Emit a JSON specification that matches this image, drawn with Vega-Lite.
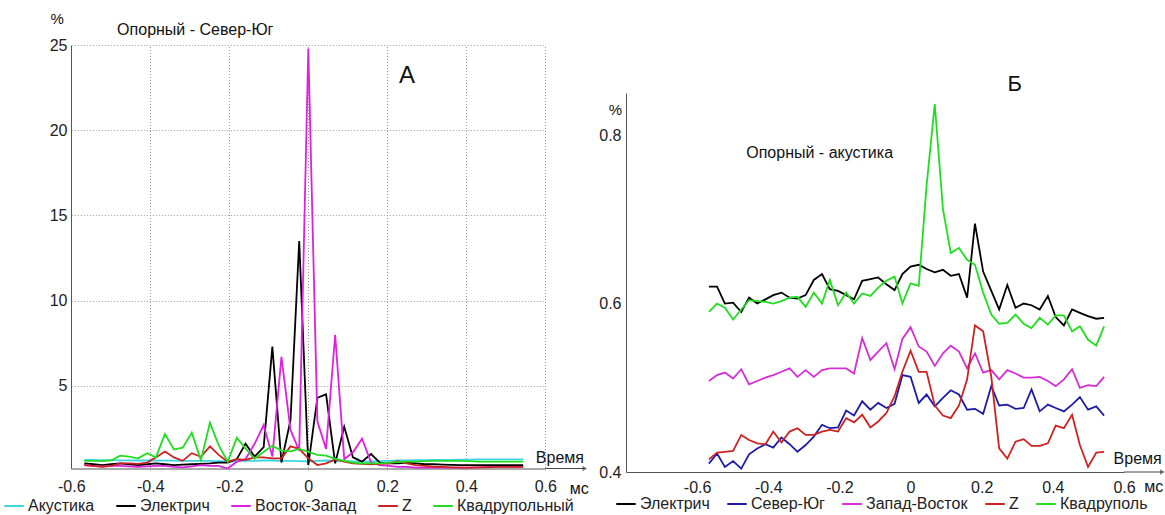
{
"$schema":"https://vega.github.io/schema/vega-lite/v6.json",
"width":1165,"height":515,"autosize":{"type":"none"},"padding":0,"background":"white",
"config":{"view":{"stroke":null},"font":"Liberation Sans","text":{"font":"Liberation Sans","color":"#111"},
"axis":{"grid":true,"gridDash":[1,2],"gridColor":"#9a9a9a","gridWidth":1,"ticks":false,"domainColor":"#555","labelFont":"Liberation Sans","labelFontSize":16,"labelColor":"#222","labelFlush":false,"labelOverlap":false,"title":null},
"legend":{"labelFont":"Liberation Sans"}},
"datasets":{
"A":[
{"s":"Акустика","t":-0.567,"v":0.65},{"s":"Акустика","t":-0.544,"v":0.65},{"s":"Акустика","t":-0.522,"v":0.64},{"s":"Акустика","t":-0.499,"v":0.64},{"s":"Акустика","t":-0.476,"v":0.63},{"s":"Акустика","t":-0.454,"v":0.63},{"s":"Акустика","t":-0.431,"v":0.62},{"s":"Акустика","t":-0.408,"v":0.62},{"s":"Акустика","t":-0.386,"v":0.62},{"s":"Акустика","t":-0.363,"v":0.61},
{"s":"Акустика","t":-0.34,"v":0.61},{"s":"Акустика","t":-0.318,"v":0.6},{"s":"Акустика","t":-0.295,"v":0.6},{"s":"Акустика","t":-0.272,"v":0.6},{"s":"Акустика","t":-0.249,"v":0.6},{"s":"Акустика","t":-0.227,"v":0.58},{"s":"Акустика","t":-0.204,"v":0.56},{"s":"Акустика","t":-0.181,"v":0.57},{"s":"Акустика","t":-0.159,"v":0.6},{"s":"Акустика","t":-0.136,"v":0.6},
{"s":"Акустика","t":-0.113,"v":0.62},{"s":"Акустика","t":-0.091,"v":0.62},{"s":"Акустика","t":-0.068,"v":0.6},{"s":"Акустика","t":-0.045,"v":0.6},{"s":"Акустика","t":-0.023,"v":0.58},{"s":"Акустика","t":0,"v":0.56},{"s":"Акустика","t":0.023,"v":0.6},{"s":"Акустика","t":0.045,"v":0.62},{"s":"Акустика","t":0.068,"v":0.6},{"s":"Акустика","t":0.091,"v":0.58},
{"s":"Акустика","t":0.113,"v":0.56},{"s":"Акустика","t":0.136,"v":0.55},{"s":"Акустика","t":0.159,"v":0.56},{"s":"Акустика","t":0.181,"v":0.58},{"s":"Акустика","t":0.204,"v":0.6},{"s":"Акустика","t":0.227,"v":0.62},{"s":"Акустика","t":0.249,"v":0.63},{"s":"Акустика","t":0.272,"v":0.64},{"s":"Акустика","t":0.295,"v":0.64},{"s":"Акустика","t":0.318,"v":0.65},
{"s":"Акустика","t":0.34,"v":0.66},{"s":"Акустика","t":0.363,"v":0.66},{"s":"Акустика","t":0.386,"v":0.67},{"s":"Акустика","t":0.408,"v":0.67},{"s":"Акустика","t":0.431,"v":0.68},{"s":"Акустика","t":0.454,"v":0.68},{"s":"Акустика","t":0.476,"v":0.68},{"s":"Акустика","t":0.499,"v":0.68},{"s":"Акустика","t":0.522,"v":0.68},{"s":"Акустика","t":0.544,"v":0.68},
{"s":"Электрич","t":-0.567,"v":0.45},{"s":"Электрич","t":-0.544,"v":0.4},{"s":"Электрич","t":-0.522,"v":0.35},{"s":"Электрич","t":-0.499,"v":0.4},{"s":"Электрич","t":-0.476,"v":0.45},{"s":"Электрич","t":-0.454,"v":0.4},{"s":"Электрич","t":-0.431,"v":0.35},{"s":"Электрич","t":-0.408,"v":0.4},{"s":"Электрич","t":-0.386,"v":0.45},{"s":"Электрич","t":-0.363,"v":0.4},
{"s":"Электрич","t":-0.34,"v":0.35},{"s":"Электрич","t":-0.318,"v":0.38},{"s":"Электрич","t":-0.295,"v":0.4},{"s":"Электрич","t":-0.272,"v":0.42},{"s":"Электрич","t":-0.249,"v":0.45},{"s":"Электрич","t":-0.227,"v":0.5},{"s":"Электрич","t":-0.204,"v":0.5},{"s":"Электрич","t":-0.181,"v":0.7},{"s":"Электрич","t":-0.159,"v":1.6},{"s":"Электрич","t":-0.136,"v":0.85},
{"s":"Электрич","t":-0.113,"v":1.4},{"s":"Электрич","t":-0.091,"v":7.3},{"s":"Электрич","t":-0.068,"v":0.5},{"s":"Электрич","t":-0.045,"v":3.0},{"s":"Электрич","t":-0.023,"v":13.5},{"s":"Электрич","t":0,"v":0.35},{"s":"Электрич","t":0.023,"v":4.3},{"s":"Электрич","t":0.045,"v":4.5},{"s":"Электрич","t":0.068,"v":0.45},{"s":"Электрич","t":0.091,"v":2.6},
{"s":"Электрич","t":0.113,"v":0.8},{"s":"Электрич","t":0.136,"v":0.55},{"s":"Электрич","t":0.159,"v":1.0},{"s":"Электрич","t":0.181,"v":0.5},{"s":"Электрич","t":0.204,"v":0.45},{"s":"Электрич","t":0.227,"v":0.45},{"s":"Электрич","t":0.249,"v":0.5},{"s":"Электрич","t":0.272,"v":0.45},{"s":"Электрич","t":0.295,"v":0.4},{"s":"Электрич","t":0.318,"v":0.4},
{"s":"Электрич","t":0.34,"v":0.38},{"s":"Электрич","t":0.363,"v":0.36},{"s":"Электрич","t":0.386,"v":0.35},{"s":"Электрич","t":0.408,"v":0.35},{"s":"Электрич","t":0.431,"v":0.35},{"s":"Электрич","t":0.454,"v":0.35},{"s":"Электрич","t":0.476,"v":0.35},{"s":"Электрич","t":0.499,"v":0.35},{"s":"Электрич","t":0.522,"v":0.35},{"s":"Электрич","t":0.544,"v":0.35},
{"s":"Восток-Запад","t":-0.567,"v":0.35},{"s":"Восток-Запад","t":-0.544,"v":0.3},{"s":"Восток-Запад","t":-0.522,"v":0.28},{"s":"Восток-Запад","t":-0.499,"v":0.3},{"s":"Восток-Запад","t":-0.476,"v":0.3},{"s":"Восток-Запад","t":-0.454,"v":0.28},{"s":"Восток-Запад","t":-0.431,"v":0.25},{"s":"Восток-Запад","t":-0.408,"v":0.28},{"s":"Восток-Запад","t":-0.386,"v":0.3},{"s":"Восток-Запад","t":-0.363,"v":0.3},
{"s":"Восток-Запад","t":-0.34,"v":0.25},{"s":"Восток-Запад","t":-0.318,"v":0.22},{"s":"Восток-Запад","t":-0.295,"v":0.28},{"s":"Восток-Запад","t":-0.272,"v":0.35},{"s":"Восток-Запад","t":-0.249,"v":0.3},{"s":"Восток-Запад","t":-0.227,"v":0.3},{"s":"Восток-Запад","t":-0.204,"v":0.15},{"s":"Восток-Запад","t":-0.181,"v":0.55},{"s":"Восток-Запад","t":-0.159,"v":0.7},{"s":"Восток-Запад","t":-0.136,"v":1.6},
{"s":"Восток-Запад","t":-0.113,"v":2.7},{"s":"Восток-Запад","t":-0.091,"v":0.85},{"s":"Восток-Запад","t":-0.068,"v":6.7},{"s":"Восток-Запад","t":-0.045,"v":2.4},{"s":"Восток-Запад","t":-0.023,"v":1.2},{"s":"Восток-Запад","t":0,"v":24.8},{"s":"Восток-Запад","t":0.023,"v":2.9},{"s":"Восток-Запад","t":0.045,"v":1.3},{"s":"Восток-Запад","t":0.068,"v":8.0},{"s":"Восток-Запад","t":0.091,"v":0.7},
{"s":"Восток-Запад","t":0.113,"v":1.1},{"s":"Восток-Запад","t":0.136,"v":1.9},{"s":"Восток-Запад","t":0.159,"v":0.5},{"s":"Восток-Запад","t":0.181,"v":0.35},{"s":"Восток-Запад","t":0.204,"v":0.3},{"s":"Восток-Запад","t":0.227,"v":0.25},{"s":"Восток-Запад","t":0.249,"v":0.25},{"s":"Восток-Запад","t":0.272,"v":0.2},{"s":"Восток-Запад","t":0.295,"v":0.2},{"s":"Восток-Запад","t":0.318,"v":0.2},
{"s":"Восток-Запад","t":0.34,"v":0.2},{"s":"Восток-Запад","t":0.363,"v":0.2},{"s":"Восток-Запад","t":0.386,"v":0.2},{"s":"Восток-Запад","t":0.408,"v":0.2},{"s":"Восток-Запад","t":0.431,"v":0.22},{"s":"Восток-Запад","t":0.454,"v":0.25},{"s":"Восток-Запад","t":0.476,"v":0.25},{"s":"Восток-Запад","t":0.499,"v":0.25},{"s":"Восток-Запад","t":0.522,"v":0.25},{"s":"Восток-Запад","t":0.544,"v":0.25},
{"s":"Z","t":-0.567,"v":0.35},{"s":"Z","t":-0.544,"v":0.3},{"s":"Z","t":-0.522,"v":0.25},{"s":"Z","t":-0.499,"v":0.3},{"s":"Z","t":-0.476,"v":0.45},{"s":"Z","t":-0.454,"v":0.45},{"s":"Z","t":-0.431,"v":0.42},{"s":"Z","t":-0.408,"v":0.5},{"s":"Z","t":-0.386,"v":0.8},{"s":"Z","t":-0.363,"v":1.15},
{"s":"Z","t":-0.34,"v":0.8},{"s":"Z","t":-0.318,"v":0.6},{"s":"Z","t":-0.295,"v":1.05},{"s":"Z","t":-0.272,"v":0.84},{"s":"Z","t":-0.249,"v":1.45},{"s":"Z","t":-0.227,"v":0.95},{"s":"Z","t":-0.204,"v":0.55},{"s":"Z","t":-0.181,"v":0.7},{"s":"Z","t":-0.159,"v":0.65},{"s":"Z","t":-0.136,"v":0.8},
{"s":"Z","t":-0.113,"v":0.8},{"s":"Z","t":-0.091,"v":0.75},{"s":"Z","t":-0.068,"v":0.75},{"s":"Z","t":-0.045,"v":1.45},{"s":"Z","t":-0.023,"v":1.3},{"s":"Z","t":0,"v":0.75},{"s":"Z","t":0.023,"v":0.35},{"s":"Z","t":0.045,"v":0.45},{"s":"Z","t":0.068,"v":0.68},{"s":"Z","t":0.091,"v":0.55},
{"s":"Z","t":0.113,"v":0.45},{"s":"Z","t":0.136,"v":0.42},{"s":"Z","t":0.159,"v":0.4},{"s":"Z","t":0.181,"v":0.42},{"s":"Z","t":0.204,"v":0.45},{"s":"Z","t":0.227,"v":0.58},{"s":"Z","t":0.249,"v":0.45},{"s":"Z","t":0.272,"v":0.35},{"s":"Z","t":0.295,"v":0.3},{"s":"Z","t":0.318,"v":0.25},
{"s":"Z","t":0.34,"v":0.25},{"s":"Z","t":0.363,"v":0.22},{"s":"Z","t":0.386,"v":0.2},{"s":"Z","t":0.408,"v":0.2},{"s":"Z","t":0.431,"v":0.22},{"s":"Z","t":0.454,"v":0.22},{"s":"Z","t":0.476,"v":0.25},{"s":"Z","t":0.499,"v":0.25},{"s":"Z","t":0.522,"v":0.25},{"s":"Z","t":0.544,"v":0.25},
{"s":"Квадрупольный","t":-0.567,"v":0.6},{"s":"Квадрупольный","t":-0.544,"v":0.6},{"s":"Квадрупольный","t":-0.522,"v":0.58},{"s":"Квадрупольный","t":-0.499,"v":0.62},{"s":"Квадрупольный","t":-0.476,"v":0.9},{"s":"Квадрупольный","t":-0.454,"v":0.85},{"s":"Квадрупольный","t":-0.431,"v":0.75},{"s":"Квадрупольный","t":-0.408,"v":1.05},{"s":"Квадрупольный","t":-0.386,"v":0.8},{"s":"Квадрупольный","t":-0.363,"v":2.17},
{"s":"Квадрупольный","t":-0.34,"v":1.27},{"s":"Квадрупольный","t":-0.318,"v":1.37},{"s":"Квадрупольный","t":-0.295,"v":2.25},{"s":"Квадрупольный","t":-0.272,"v":0.64},{"s":"Квадрупольный","t":-0.249,"v":2.83},{"s":"Квадрупольный","t":-0.227,"v":1.52},{"s":"Квадрупольный","t":-0.204,"v":0.55},{"s":"Квадрупольный","t":-0.181,"v":1.95},{"s":"Квадрупольный","t":-0.159,"v":1.33},{"s":"Квадрупольный","t":-0.136,"v":0.72},
{"s":"Квадрупольный","t":-0.113,"v":1.13},{"s":"Квадрупольный","t":-0.091,"v":1.48},{"s":"Квадрупольный","t":-0.068,"v":1.2},{"s":"Квадрупольный","t":-0.045,"v":1.15},{"s":"Квадрупольный","t":-0.023,"v":1.3},{"s":"Квадрупольный","t":0,"v":1.13},{"s":"Квадрупольный","t":0.023,"v":0.95},{"s":"Квадрупольный","t":0.045,"v":0.9},{"s":"Квадрупольный","t":0.068,"v":0.72},{"s":"Квадрупольный","t":0.091,"v":0.6},
{"s":"Квадрупольный","t":0.113,"v":0.5},{"s":"Квадрупольный","t":0.136,"v":0.45},{"s":"Квадрупольный","t":0.159,"v":0.45},{"s":"Квадрупольный","t":0.181,"v":0.45},{"s":"Квадрупольный","t":0.204,"v":0.5},{"s":"Квадрупольный","t":0.227,"v":0.52},{"s":"Квадрупольный","t":0.249,"v":0.55},{"s":"Квадрупольный","t":0.272,"v":0.55},{"s":"Квадрупольный","t":0.295,"v":0.58},{"s":"Квадрупольный","t":0.318,"v":0.6},
{"s":"Квадрупольный","t":0.34,"v":0.6},{"s":"Квадрупольный","t":0.363,"v":0.6},{"s":"Квадрупольный","t":0.386,"v":0.6},{"s":"Квадрупольный","t":0.408,"v":0.58},{"s":"Квадрупольный","t":0.431,"v":0.55},{"s":"Квадрупольный","t":0.454,"v":0.55},{"s":"Квадрупольный","t":0.476,"v":0.55},{"s":"Квадрупольный","t":0.499,"v":0.55},{"s":"Квадрупольный","t":0.522,"v":0.55},{"s":"Квадрупольный","t":0.544,"v":0.55}
],
"B":[
{"s":"Электрич","t":-0.567,"v":0.62},{"s":"Электрич","t":-0.544,"v":0.62},{"s":"Электрич","t":-0.522,"v":0.6},{"s":"Электрич","t":-0.499,"v":0.601},{"s":"Электрич","t":-0.476,"v":0.59},{"s":"Электрич","t":-0.454,"v":0.607},{"s":"Электрич","t":-0.431,"v":0.6},{"s":"Электрич","t":-0.408,"v":0.605},{"s":"Электрич","t":-0.386,"v":0.61},{"s":"Электрич","t":-0.363,"v":0.613},
{"s":"Электрич","t":-0.34,"v":0.607},{"s":"Электрич","t":-0.318,"v":0.606},{"s":"Электрич","t":-0.295,"v":0.61},{"s":"Электрич","t":-0.272,"v":0.628},{"s":"Электрич","t":-0.249,"v":0.635},{"s":"Электрич","t":-0.227,"v":0.617},{"s":"Электрич","t":-0.204,"v":0.615},{"s":"Электрич","t":-0.181,"v":0.61},{"s":"Электрич","t":-0.159,"v":0.605},{"s":"Электрич","t":-0.136,"v":0.627},
{"s":"Электрич","t":-0.113,"v":0.629},{"s":"Электрич","t":-0.091,"v":0.631},{"s":"Электрич","t":-0.068,"v":0.623},{"s":"Электрич","t":-0.045,"v":0.616},{"s":"Электрич","t":-0.023,"v":0.635},{"s":"Электрич","t":0,"v":0.644},{"s":"Электрич","t":0.023,"v":0.646},{"s":"Электрич","t":0.045,"v":0.641},{"s":"Электрич","t":0.068,"v":0.637},{"s":"Электрич","t":0.091,"v":0.64},
{"s":"Электрич","t":0.113,"v":0.633},{"s":"Электрич","t":0.136,"v":0.635},{"s":"Электрич","t":0.159,"v":0.607},{"s":"Электрич","t":0.181,"v":0.695},{"s":"Электрич","t":0.204,"v":0.638},{"s":"Электрич","t":0.227,"v":0.615},{"s":"Электрич","t":0.249,"v":0.593},{"s":"Электрич","t":0.272,"v":0.622},{"s":"Электрич","t":0.295,"v":0.595},{"s":"Электрич","t":0.318,"v":0.6},
{"s":"Электрич","t":0.34,"v":0.598},{"s":"Электрич","t":0.363,"v":0.593},{"s":"Электрич","t":0.386,"v":0.609},{"s":"Электрич","t":0.408,"v":0.584},{"s":"Электрич","t":0.431,"v":0.574},{"s":"Электрич","t":0.454,"v":0.593},{"s":"Электрич","t":0.476,"v":0.589},{"s":"Электрич","t":0.499,"v":0.585},{"s":"Электрич","t":0.522,"v":0.582},{"s":"Электрич","t":0.544,"v":0.583},
{"s":"Север-Юг","t":-0.567,"v":0.41},{"s":"Север-Юг","t":-0.544,"v":0.422},{"s":"Север-Юг","t":-0.522,"v":0.406},{"s":"Север-Юг","t":-0.499,"v":0.413},{"s":"Север-Юг","t":-0.476,"v":0.404},{"s":"Север-Юг","t":-0.454,"v":0.421},{"s":"Север-Юг","t":-0.431,"v":0.428},{"s":"Север-Юг","t":-0.408,"v":0.433},{"s":"Север-Юг","t":-0.386,"v":0.429},{"s":"Север-Юг","t":-0.363,"v":0.441},
{"s":"Север-Юг","t":-0.34,"v":0.433},{"s":"Север-Юг","t":-0.318,"v":0.424},{"s":"Север-Юг","t":-0.295,"v":0.432},{"s":"Север-Юг","t":-0.272,"v":0.442},{"s":"Север-Юг","t":-0.249,"v":0.456},{"s":"Север-Юг","t":-0.227,"v":0.452},{"s":"Север-Юг","t":-0.204,"v":0.453},{"s":"Север-Юг","t":-0.181,"v":0.473},{"s":"Север-Юг","t":-0.159,"v":0.467},{"s":"Север-Юг","t":-0.136,"v":0.484},
{"s":"Север-Юг","t":-0.113,"v":0.474},{"s":"Север-Юг","t":-0.091,"v":0.482},{"s":"Север-Юг","t":-0.068,"v":0.476},{"s":"Север-Юг","t":-0.045,"v":0.481},{"s":"Север-Юг","t":-0.023,"v":0.515},{"s":"Север-Юг","t":0,"v":0.513},{"s":"Север-Юг","t":0.023,"v":0.482},{"s":"Север-Юг","t":0.045,"v":0.492},{"s":"Север-Юг","t":0.068,"v":0.478},{"s":"Север-Юг","t":0.091,"v":0.488},
{"s":"Север-Юг","t":0.113,"v":0.497},{"s":"Север-Юг","t":0.136,"v":0.492},{"s":"Север-Юг","t":0.159,"v":0.474},{"s":"Север-Юг","t":0.181,"v":0.475},{"s":"Север-Юг","t":0.204,"v":0.469},{"s":"Север-Юг","t":0.227,"v":0.502},{"s":"Север-Юг","t":0.249,"v":0.479},{"s":"Север-Юг","t":0.272,"v":0.48},{"s":"Север-Юг","t":0.295,"v":0.475},{"s":"Север-Юг","t":0.318,"v":0.476},
{"s":"Север-Юг","t":0.34,"v":0.498},{"s":"Север-Юг","t":0.363,"v":0.472},{"s":"Север-Юг","t":0.386,"v":0.48},{"s":"Север-Юг","t":0.408,"v":0.476},{"s":"Север-Юг","t":0.431,"v":0.472},{"s":"Север-Юг","t":0.454,"v":0.48},{"s":"Север-Юг","t":0.476,"v":0.489},{"s":"Север-Юг","t":0.499,"v":0.474},{"s":"Север-Юг","t":0.522,"v":0.478},{"s":"Север-Юг","t":0.544,"v":0.467},
{"s":"Запад-Восток","t":-0.567,"v":0.508},{"s":"Запад-Восток","t":-0.544,"v":0.515},{"s":"Запад-Восток","t":-0.522,"v":0.518},{"s":"Запад-Восток","t":-0.499,"v":0.511},{"s":"Запад-Восток","t":-0.476,"v":0.522},{"s":"Запад-Восток","t":-0.454,"v":0.504},{"s":"Запад-Восток","t":-0.431,"v":0.508},{"s":"Запад-Восток","t":-0.408,"v":0.512},{"s":"Запад-Восток","t":-0.386,"v":0.515},{"s":"Запад-Восток","t":-0.363,"v":0.519},
{"s":"Запад-Восток","t":-0.34,"v":0.523},{"s":"Запад-Восток","t":-0.318,"v":0.513},{"s":"Запад-Восток","t":-0.295,"v":0.521},{"s":"Запад-Восток","t":-0.272,"v":0.513},{"s":"Запад-Восток","t":-0.249,"v":0.521},{"s":"Запад-Восток","t":-0.227,"v":0.523},{"s":"Запад-Восток","t":-0.204,"v":0.523},{"s":"Запад-Восток","t":-0.181,"v":0.523},{"s":"Запад-Восток","t":-0.159,"v":0.517},{"s":"Запад-Восток","t":-0.136,"v":0.559},
{"s":"Запад-Восток","t":-0.113,"v":0.533},{"s":"Запад-Восток","t":-0.091,"v":0.543},{"s":"Запад-Восток","t":-0.068,"v":0.553},{"s":"Запад-Восток","t":-0.045,"v":0.522},{"s":"Запад-Восток","t":-0.023,"v":0.558},{"s":"Запад-Восток","t":0,"v":0.572},{"s":"Запад-Восток","t":0.023,"v":0.549},{"s":"Запад-Восток","t":0.045,"v":0.543},{"s":"Запад-Восток","t":0.068,"v":0.526},{"s":"Запад-Восток","t":0.091,"v":0.541},
{"s":"Запад-Восток","t":0.113,"v":0.55},{"s":"Запад-Восток","t":0.136,"v":0.543},{"s":"Запад-Восток","t":0.159,"v":0.523},{"s":"Запад-Восток","t":0.181,"v":0.541},{"s":"Запад-Восток","t":0.204,"v":0.518},{"s":"Запад-Восток","t":0.227,"v":0.521},{"s":"Запад-Восток","t":0.249,"v":0.51},{"s":"Запад-Восток","t":0.272,"v":0.521},{"s":"Запад-Восток","t":0.295,"v":0.517},{"s":"Запад-Восток","t":0.318,"v":0.512},
{"s":"Запад-Восток","t":0.34,"v":0.512},{"s":"Запад-Восток","t":0.363,"v":0.513},{"s":"Запад-Восток","t":0.386,"v":0.508},{"s":"Запад-Восток","t":0.408,"v":0.502},{"s":"Запад-Восток","t":0.431,"v":0.51},{"s":"Запад-Восток","t":0.454,"v":0.522},{"s":"Запад-Восток","t":0.476,"v":0.5},{"s":"Запад-Восток","t":0.499,"v":0.503},{"s":"Запад-Восток","t":0.522,"v":0.502},{"s":"Запад-Восток","t":0.544,"v":0.513},
{"s":"Z","t":-0.567,"v":0.415},{"s":"Z","t":-0.544,"v":0.423},{"s":"Z","t":-0.522,"v":0.424},{"s":"Z","t":-0.499,"v":0.425},{"s":"Z","t":-0.476,"v":0.444},{"s":"Z","t":-0.454,"v":0.438},{"s":"Z","t":-0.431,"v":0.434},{"s":"Z","t":-0.408,"v":0.433},{"s":"Z","t":-0.386,"v":0.448},{"s":"Z","t":-0.363,"v":0.435},
{"s":"Z","t":-0.34,"v":0.448},{"s":"Z","t":-0.318,"v":0.452},{"s":"Z","t":-0.295,"v":0.444},{"s":"Z","t":-0.272,"v":0.444},{"s":"Z","t":-0.249,"v":0.448},{"s":"Z","t":-0.227,"v":0.45},{"s":"Z","t":-0.204,"v":0.448},{"s":"Z","t":-0.181,"v":0.464},{"s":"Z","t":-0.159,"v":0.459},{"s":"Z","t":-0.136,"v":0.468},
{"s":"Z","t":-0.113,"v":0.453},{"s":"Z","t":-0.091,"v":0.46},{"s":"Z","t":-0.068,"v":0.47},{"s":"Z","t":-0.045,"v":0.49},{"s":"Z","t":-0.023,"v":0.519},{"s":"Z","t":0,"v":0.544},{"s":"Z","t":0.023,"v":0.519},{"s":"Z","t":0.045,"v":0.519},{"s":"Z","t":0.068,"v":0.479},{"s":"Z","t":0.091,"v":0.467},
{"s":"Z","t":0.113,"v":0.464},{"s":"Z","t":0.136,"v":0.479},{"s":"Z","t":0.159,"v":0.51},{"s":"Z","t":0.181,"v":0.574},{"s":"Z","t":0.204,"v":0.567},{"s":"Z","t":0.227,"v":0.513},{"s":"Z","t":0.249,"v":0.428},{"s":"Z","t":0.272,"v":0.416},{"s":"Z","t":0.295,"v":0.436},{"s":"Z","t":0.318,"v":0.439},
{"s":"Z","t":0.34,"v":0.431},{"s":"Z","t":0.363,"v":0.431},{"s":"Z","t":0.386,"v":0.434},{"s":"Z","t":0.408,"v":0.455},{"s":"Z","t":0.431,"v":0.452},{"s":"Z","t":0.454,"v":0.468},{"s":"Z","t":0.476,"v":0.432},{"s":"Z","t":0.499,"v":0.406},{"s":"Z","t":0.522,"v":0.423},{"s":"Z","t":0.544,"v":0.424},
{"s":"Квадруполь","t":-0.567,"v":0.59},{"s":"Квадруполь","t":-0.544,"v":0.6},{"s":"Квадруполь","t":-0.522,"v":0.595},{"s":"Квадруполь","t":-0.499,"v":0.581},{"s":"Квадруполь","t":-0.476,"v":0.593},{"s":"Квадруполь","t":-0.454,"v":0.604},{"s":"Квадруполь","t":-0.431,"v":0.603},{"s":"Квадруполь","t":-0.408,"v":0.602},{"s":"Квадруполь","t":-0.386,"v":0.6},{"s":"Квадруполь","t":-0.363,"v":0.603},
{"s":"Квадруполь","t":-0.34,"v":0.607},{"s":"Квадруполь","t":-0.318,"v":0.608},{"s":"Квадруполь","t":-0.295,"v":0.596},{"s":"Квадруполь","t":-0.272,"v":0.613},{"s":"Квадруполь","t":-0.249,"v":0.6},{"s":"Квадруполь","t":-0.227,"v":0.628},{"s":"Квадруполь","t":-0.204,"v":0.598},{"s":"Квадруполь","t":-0.181,"v":0.613},{"s":"Квадруполь","t":-0.159,"v":0.6},{"s":"Квадруполь","t":-0.136,"v":0.612},
{"s":"Квадруполь","t":-0.113,"v":0.609},{"s":"Квадруполь","t":-0.091,"v":0.619},{"s":"Квадруполь","t":-0.068,"v":0.627},{"s":"Квадруполь","t":-0.045,"v":0.632},{"s":"Квадруполь","t":-0.023,"v":0.6},{"s":"Квадруполь","t":0,"v":0.624},{"s":"Квадруполь","t":0.023,"v":0.621},{"s":"Квадруполь","t":0.045,"v":0.74},{"s":"Квадруполь","t":0.068,"v":0.837},{"s":"Квадруполь","t":0.091,"v":0.712},
{"s":"Квадруполь","t":0.113,"v":0.66},{"s":"Квадруполь","t":0.136,"v":0.666},{"s":"Квадруполь","t":0.159,"v":0.652},{"s":"Квадруполь","t":0.181,"v":0.646},{"s":"Квадруполь","t":0.204,"v":0.613},{"s":"Квадруполь","t":0.227,"v":0.587},{"s":"Квадруполь","t":0.249,"v":0.576},{"s":"Квадруполь","t":0.272,"v":0.577},{"s":"Квадруполь","t":0.295,"v":0.587},{"s":"Квадруполь","t":0.318,"v":0.576},
{"s":"Квадруполь","t":0.34,"v":0.571},{"s":"Квадруполь","t":0.363,"v":0.583},{"s":"Квадруполь","t":0.386,"v":0.575},{"s":"Квадруполь","t":0.408,"v":0.586},{"s":"Квадруполь","t":0.431,"v":0.586},{"s":"Квадруполь","t":0.454,"v":0.567},{"s":"Квадруполь","t":0.476,"v":0.573},{"s":"Квадруполь","t":0.499,"v":0.557},{"s":"Квадруполь","t":0.522,"v":0.55},{"s":"Квадруполь","t":0.544,"v":0.573}
]},
"layer":[
{
"encoding":{
"x":{"field":"t","type":"quantitative","scale":{"domain":[-0.6,0.6],"range":[71.3,545.3],"nice":false,"zero":false},
"axis":{"orient":"bottom","offset":-46.5,"values":[-0.6,-0.4,-0.2,0,0.2,0.4,0.6],"labelExpr":"'' + datum.value","labelPadding":10}},
"y":{"field":"v","type":"quantitative","scale":{"domain":[0.15,25],"range":[468.5,45],"nice":false,"zero":false},
"axis":{"orient":"left","offset":-71,"values":[5,10,15,20,25],"labelPadding":4}}
},
"layer":[
{"data":{"name":"A"},"mark":{"type":"line","strokeWidth":1.8},
"encoding":{"color":{"field":"s","type":"nominal","scale":{"domain":["Акустика","Электрич","Восток-Запад","Z","Квадрупольный"],"range":["#3fd4e2","#000000","#dc22dc","#cc2222","#22dd22"]},
"legend":{"orient":"none","legendX":3,"legendY":495,"direction":"horizontal","title":null,"symbolType":"stroke","symbolStrokeWidth":2,"symbolSize":380,"labelFontSize":16,"labelColor":"#222","columnPadding":17,"labelOffset":3}}}},
{"data":{"values":[{"t":0.6,"t2":0.7,"v":0.15}]},"mark":{"type":"rule","color":"#444","strokeWidth":1},"encoding":{"x2":{"field":"t2"}}},
{"data":{"values":[{"t":0.7,"v":0.15}]},"mark":{"type":"point","shape":"triangle-right","filled":true,"color":"#444","size":30}},
{"data":{"values":[{"t":-0.636,"v":26.53,"label":"%"},{"t":0.25,"v":23.18,"label":"А"}]},"mark":{"type":"text","align":"center","baseline":"middle","fontSize":16},"encoding":{"text":{"field":"label"},"size":{"condition":{"test":"datum.label == 'А'","value":24},"value":15}}},
{"data":{"values":[{"t":-0.484,"v":25.88,"label":"Опорный - Север-Юг"}]},"mark":{"type":"text","align":"left","baseline":"middle","fontSize":16},"encoding":{"text":{"field":"label"}}},
{"data":{"values":[{"t":0.698,"v":0.77,"label":"Время"},{"t":0.71,"v":-1.05,"label":"мс"}]},"mark":{"type":"text","align":"right","baseline":"middle","fontSize":16},"encoding":{"text":{"field":"label"}}}
]
},
{
"encoding":{
"x":{"field":"t","type":"quantitative","scale":{"domain":[-0.8,0.6],"range":[626,1124],"nice":false,"zero":false},
"axis":{"orient":"bottom","offset":-43,"values":[-0.6,-0.4,-0.2,0,0.2,0.4,0.6],"labelExpr":"'' + datum.value","labelPadding":7}},
"y":{"field":"v","type":"quantitative","scale":{"domain":[0.4,0.85],"range":[472,93],"nice":false,"zero":false},
"axis":{"orient":"left","offset":-626,"values":[0.4,0.45,0.5,0.55,0.6,0.65,0.7,0.75,0.8,0.85],"labelExpr":"(datum.value == 0.4 || datum.value == 0.6 || datum.value == 0.8) ? '' + datum.value : ''","labelPadding":5}}
},
"layer":[
{"data":{"name":"B"},"mark":{"type":"line","strokeWidth":1.8},
"encoding":{"color":{"field":"s","type":"nominal","scale":{"domain":["Электрич","Север-Юг","Запад-Восток","Z","Квадруполь"],"range":["#000000","#1c1ca6","#d62ed6","#cc2222","#22dd22"]},
"legend":{"orient":"none","legendX":615,"legendY":493,"direction":"horizontal","title":null,"symbolType":"stroke","symbolStrokeWidth":2,"symbolSize":380,"labelFontSize":16,"labelColor":"#222","columnPadding":13,"labelOffset":3}}}},
{"data":{"values":[{"t":0.6,"t2":0.708,"v":0.4}]},"mark":{"type":"rule","color":"#444","strokeWidth":1},"encoding":{"x2":{"field":"t2"}}},
{"data":{"values":[{"t":0.708,"v":0.4}]},"mark":{"type":"point","shape":"triangle-right","filled":true,"color":"#444","size":30}},
{"data":{"values":[{"t":-0.83,"v":0.83,"label":"%"},{"t":0.293,"v":0.861,"label":"Б"}]},"mark":{"type":"text","align":"center","baseline":"middle","fontSize":16},"encoding":{"text":{"field":"label"},"size":{"condition":{"test":"datum.label == 'Б'","value":22},"value":15}}},
{"data":{"values":[{"t":-0.462,"v":0.779,"label":"Опорный - акустика"}]},"mark":{"type":"text","align":"left","baseline":"middle","fontSize":16},"encoding":{"text":{"field":"label"}}},
{"data":{"values":[{"t":0.706,"v":0.415,"label":"Время"},{"t":0.71,"v":0.382,"label":"мс"}]},"mark":{"type":"text","align":"right","baseline":"middle","fontSize":16},"encoding":{"text":{"field":"label"}}}
]
}
],
"resolve":{"scale":{"x":"independent","y":"independent","color":"independent","size":"independent"}}
}
